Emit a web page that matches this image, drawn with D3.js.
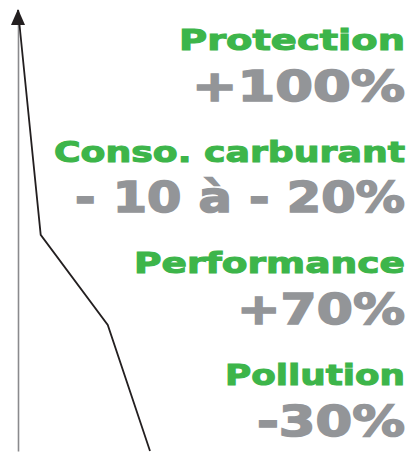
<!DOCTYPE html>
<html>
<head>
<meta charset="utf-8">
<script src="https://cdn.jsdelivr.net/npm/d3@7"></script>
<style>
  html, body { margin: 0; padding: 0; background: #fff; }
  svg { display: block; }
</style>
</head>
<body>
<svg id="chart" width="412" height="453"></svg>
<script>
// ---- data ----
const categories = ["Protection", "Conso. carburant", "Performance", "Pollution"];
const gains = ["+100%", "- 10 à - 20%", "+70%", "-30%"];
// descending curve, abstract units (x: 0-100, y: 0-100)
const curveX = [0, 17.2, 68, 100];
const curveY = [100, 49, 28.6, 0];

// ---- layout (not data) ----
const catWidths = [226, 351, 271, 180];
const gainWidths = [213, 330, 168, 148];
const rightEdge = 405;
const green = "#3db54a", gray = "#939598";

const svg = d3.select("#chart");

const x = d3.scaleLinear().domain([0, 100]).range([18, 150]);
const y = d3.scaleLinear().domain([0, 100]).range([451, 10]);

// vertical axis
const axis = d3.axisLeft(y).tickValues([]).tickSizeOuter(0);
const gAxis = svg.append("g").attr("transform", `translate(${x(0)},0)`).call(axis);
gAxis.select(".domain").attr("stroke", "#8a8a8d").attr("stroke-width", 1.6);

// curve
const pts = curveX.map((v, i) => [v, curveY[i]]);
svg.append("path")
  .datum(pts)
  .attr("fill", "none")
  .attr("stroke", "#231f20")
  .attr("stroke-width", 1.8)
  .attr("stroke-linejoin", "miter")
  .attr("d", d3.line().x(d => x(d[0])).y(d => y(d[1])));

// arrow head at top of axis
const ax = x(0), ay = y(100);
svg.append("path")
  .attr("d", `M${ax},${ay - 1} L${ax + 7},${ay + 15} L${ax - 7},${ay + 15} Z`)
  .attr("fill", "#231f20");

// labels
const rowStep = 111.7, firstBase = 50, gap = 50.5;
const fontFam = "'DejaVu Sans', 'Liberation Sans', sans-serif";
categories.forEach((c, i) => {
  const base = firstBase + i * rowStep;
  svg.append("text")
    .attr("x", rightEdge).attr("y", base)
    .attr("text-anchor", "end")
    .attr("font-family", fontFam)
    .attr("font-weight", "bold")
    .attr("font-size", 29)
    .attr("fill", green)
    .attr("stroke", green)
    .attr("stroke-width", 1.1)
    .attr("textLength", catWidths[i])
    .attr("lengthAdjust", "spacingAndGlyphs")
    .text(c);
  svg.append("text")
    .attr("x", rightEdge).attr("y", base + gap)
    .attr("text-anchor", "end")
    .attr("font-family", fontFam)
    .attr("font-weight", "bold")
    .attr("font-size", 42)
    .attr("fill", gray)
    .attr("stroke", gray)
    .attr("stroke-width", 1.6)
    .attr("textLength", gainWidths[i])
    .attr("lengthAdjust", "spacingAndGlyphs")
    .text(gains[i]);
});
</script>
</body>
</html>
